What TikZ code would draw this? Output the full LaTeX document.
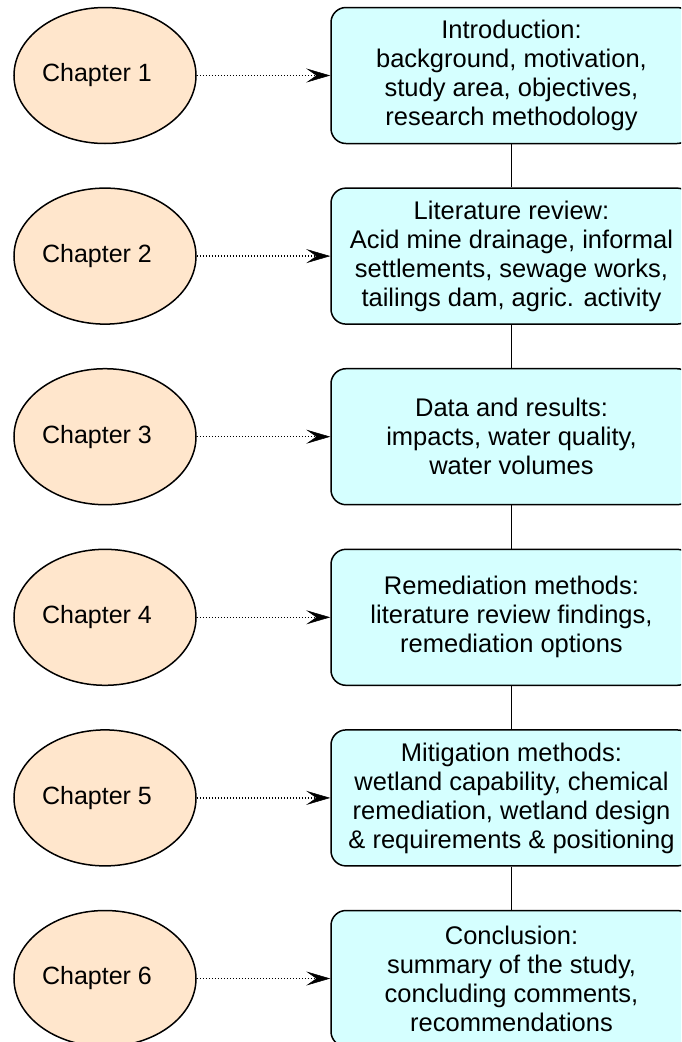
\documentclass[tikz,border=0pt]{standalone}
\usepackage{fontspec}
\setmainfont{Liberation Sans}
\usetikzlibrary{shapes.geometric,arrows.meta}
\definecolor{peach}{HTML}{FFE6CC}
\definecolor{lcyan}{HTML}{D5FFFF}
\tikzset{
  chap/.style={ellipse, draw=black, line width=1.5pt, fill=peach, minimum width=182pt, minimum height=136pt, inner sep=0pt, font=\fontsize{25}{29}\selectfont},
  topic/.style={rectangle, rounded corners=15pt, draw=black, line width=1.5pt, fill=lcyan, minimum width=361pt, minimum height=136pt, inner sep=2pt, align=center, font=\fontsize{25.5}{29}\selectfont},
  link/.style={line width=1.5pt, dash pattern=on 1.5pt off 1.5pt, -{Stealth[length=24pt,width=14pt,inset=10pt,line width=0.5pt]}},
  vlink/.style={line width=1.8pt}
}
\begin{document}
\begin{tikzpicture}[x=1pt,y=-1pt]
\useasboundingbox (0,0) rectangle (681,1042);
\clip (0,0) rectangle (681,1042);
\foreach \i/\t [evaluate=\i as \yy using 75.5+180.6*(\i-1)] in {%
  1/{Introduction:\\background, motivation,\\study area, objectives,\\research methodology},
  2/{Literature review:\\Acid mine drainage, informal\\settlements, sewage works,\\tailings dam, agric. activity},
  3/{Data and results:\\impacts, water quality,\\water volumes},
  4/{Remediation methods:\\literature review findings,\\remediation options},
  5/{Mitigation methods:\\wetland capability, chemical\\remediation, wetland design\\\& requirements \& positioning},
  6/{Conclusion:\\summary of the study,\\concluding comments,\\recommendations}} {
  \node[chap] (c\i) at (105,\yy) {Chapter \i\kern16pt\relax};
  \node[topic] (b\i) at (511.5,\yy) {\t};
  \draw[link] (c\i.east) -- (b\i.west);
}
\foreach \i [evaluate=\i as \j using int(\i+1)] in {1,...,5} {
  \draw[vlink] (b\i.south) -- (b\j.north);
}
\end{tikzpicture}
\end{document}
